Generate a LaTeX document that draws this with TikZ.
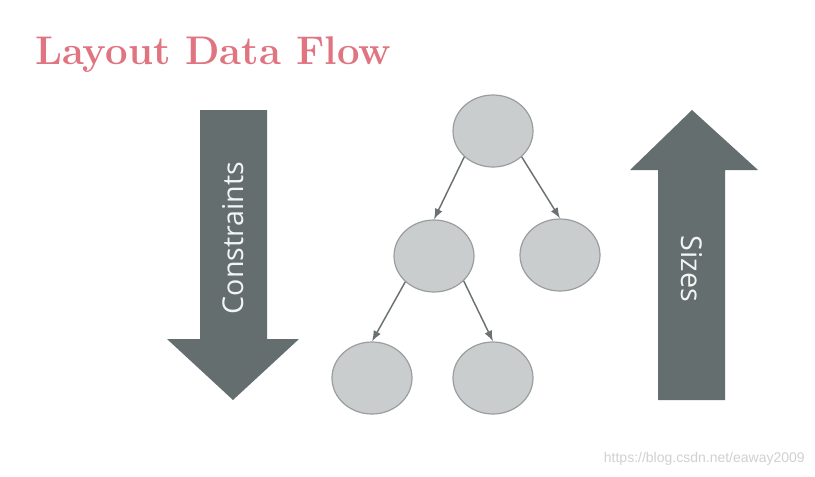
\documentclass[tikz,border=0pt]{standalone}
\usepackage{fontspec}
\usetikzlibrary{shapes.geometric, arrows.meta}
\newfontfamily\labelfont{Open Sans}
\newfontfamily\urlfont{Liberation Sans}
\definecolor{titlered}{HTML}{E07480}
\definecolor{blockgray}{HTML}{646E6E}
\definecolor{nodefill}{HTML}{C9CDCE}
\definecolor{nodeline}{HTML}{9A9E9F}
\definecolor{edgegray}{HTML}{6C7272}
\tikzset{
  treenode/.style={ellipse, draw=nodeline, fill=nodefill, line width=0.9pt,
    minimum width=60pt, minimum height=54pt, inner sep=0pt},
  treeedge/.style={-{Latex[length=8pt, width=6pt]}, draw=edgegray, line width=1.1pt},
  blocklabel/.style={text=white!92!blockgray, font=\labelfont\fontsize{21.5}{26}\selectfont, inner sep=0pt}
}
\begin{document}
\begin{tikzpicture}[x=0.75pt, y=-0.75pt]
\useasboundingbox (0,0) rectangle (815,476);
\fill[white] (0,0) rectangle (815,476);

\node [anchor=base west, inner sep=0pt, text=titlered, font=\bfseries\fontsize{30}{36}\selectfont] (title) at (35,64) {Layout Data Flow};

% down arrow
\fill [blockgray] (200,110) -- (267,110) -- (267,339) -- (299,339) -- (233,400) -- (167,339) -- (200,339) -- cycle;
\node [blocklabel, rotate=90] (constraints) at (233,238) {Constraints};

% up arrow
\fill [blockgray] (658,400) -- (725,400) -- (725,170) -- (758,170) -- (692,110) -- (630,170) -- (658,170) -- cycle;
\node [blocklabel, rotate=-90] (sizes) at (692,269) {Sizes};

\node [treenode] (root) at (493,131) {};
\node [treenode] (left) at (434,256) {};
\node [treenode] (right) at (560,255) {};
\node [treenode] (leftleft) at (372,378) {};
\node [treenode] (leftright) at (493,378) {};

\draw [treeedge] (root.222) -- (left.north);
\draw [treeedge] (root.318) -- (right.north);
\draw [treeedge] (left.222) -- (leftleft.north);
\draw [treeedge] (left.320) -- (leftright.north);

\node [anchor=base east, inner sep=0pt, text=black!18, font=\urlfont\fontsize{10.5}{12}\selectfont] (url) at (805,462) {https://blog.csdn.net/eaway2009};
\end{tikzpicture}
\end{document}
